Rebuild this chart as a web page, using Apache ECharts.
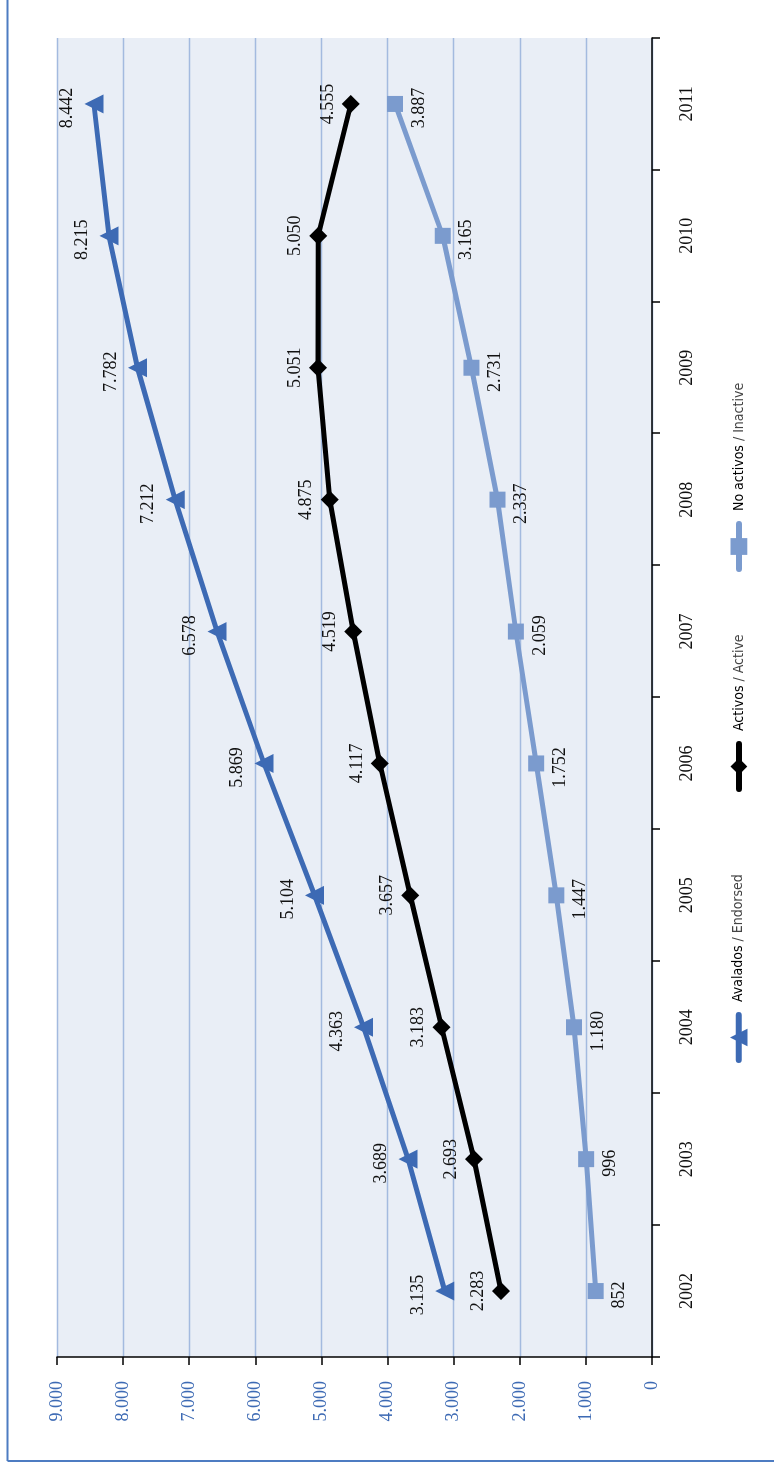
<!DOCTYPE html>
<html>
<head>
<meta charset="utf-8">
<script src="https://cdn.jsdelivr.net/npm/echarts@6/dist/echarts.min.js"></script>
<style>
html,body{margin:0;padding:0;overflow:hidden;background:#fff;width:774px;height:1467px;}
#main{position:absolute;left:0;top:0;width:1467px;height:774px;transform-origin:0 0;transform:translateY(1467px) rotate(-90deg);}
</style>
</head>
<body>
<div id="main"></div>
<script>
// Data (chart drawn in normal orientation, the container is rotated -90deg)
const years = ['2002','2003','2004','2005','2006','2007','2008','2009','2010','2011'];
const avalados = [3135, 3689, 4363, 5104, 5869, 6578, 7212, 7782, 8215, 8442];
const activos = [2283, 2693, 3183, 3657, 4117, 4519, 4875, 5051, 5050, 4555];
const noActivos = [852, 996, 1180, 1447, 1752, 2059, 2337, 2731, 3165, 3887];
const seriesNames = ['Avalados', 'Activos', 'No activos'];
const seriesSub = [' / Endorsed', ' / Active', ' / Inactive'];

const fmt = v => String(v).replace(/\B(?=(\d{3})+(?!\d))/g, '.');
const serif = "'Liberation Serif', 'DejaVu Serif', serif";
const narrow = "'DejaVu Sans Condensed', 'Liberation Sans Narrow', sans-serif";

const chart = echarts.init(document.getElementById('main'));

function legendAt(name, sub, left, h) {
  return {
    data: [name],
    left: left,
    top: 741 - h / 2,
    padding: 0,
    itemWidth: 45,
    itemHeight: h,
    lineStyle: {width: 6, cap: 'round'},
    formatter: n => '{a|' + n + '}{b|' + sub + '}',
    textStyle: {
      rich: {
        a: {fontFamily: narrow, fontSize: 14, color: '#000', padding: [0, 0, 0, 8]},
        b: {fontFamily: narrow, fontSize: 14, color: '#444'}
      }
    },
    selectedMode: false
  };
}

const labelBase = {show: true, fontFamily: serif, fontSize: 18, color: '#111', formatter: p => fmt(p.value)};

chart.setOption({
  animation: false,
  backgroundColor: '#fff',
  grid: {left: 110, right: 38, top: 57, bottom: 122, show: true, backgroundColor: '#E9EEF6', borderWidth: 0},
  graphic: [
    {type: 'line', shape: {x1: 6, y1: 7.5, x2: 1467, y2: 7.5}, style: {stroke: '#4D7CC2', lineWidth: 2}},
    {type: 'line', shape: {x1: 6, y1: 7.5, x2: 6, y2: 774}, style: {stroke: '#4D7CC2', lineWidth: 2}}
  ],
  legend: [
    legendAt(seriesNames[0], seriesSub[0], 404, 22),
    legendAt(seriesNames[1], seriesSub[1], 675, 21),
    legendAt(seriesNames[2], seriesSub[2], 895, 21)
  ],
  xAxis: {
    type: 'category',
    data: years,
    boundaryGap: true,
    axisLine: {show: true, lineStyle: {color: '#000', width: 1.5}},
    axisTick: {show: true, inside: false, length: 8, lineStyle: {color: '#000', width: 1.5}},
    axisLabel: {fontFamily: serif, fontSize: 18, color: '#111', margin: 26}
  },
  yAxis: {
    type: 'value',
    min: 0, max: 9000, interval: 1000,
    axisLine: {show: true, lineStyle: {color: '#000', width: 1.5}},
    axisTick: {show: true, inside: false, length: 8, lineStyle: {color: '#000', width: 1.5}},
    axisLabel: {fontFamily: serif, fontSize: 18, color: '#3D6AB4', margin: 24, formatter: v => fmt(v)},
    splitLine: {show: true, lineStyle: {color: '#A3BADF', width: 1.3}}
  },
  series: [
    {
      name: seriesNames[0], type: 'line', data: avalados,
      symbol: 'triangle', symbolSize: [19, 19], showAllSymbol: true,
      lineStyle: {color: '#3D6AB4', width: 5},
      itemStyle: {color: '#3D6AB4'},
      label: Object.assign({}, labelBase, {position: 'top', distance: 8, offset: [-4, 0]})
    },
    {
      name: seriesNames[1], type: 'line', data: activos,
      symbol: 'diamond', symbolSize: [18, 18], showAllSymbol: true,
      lineStyle: {color: '#000', width: 5},
      itemStyle: {color: '#000'},
      label: Object.assign({}, labelBase, {position: 'top', distance: 5})
    },
    {
      name: seriesNames[2], type: 'line', data: noActivos,
      symbol: 'rect', symbolSize: [16, 16], showAllSymbol: true,
      lineStyle: {color: '#7B9BCE', width: 5},
      itemStyle: {color: '#7B9BCE'},
      label: Object.assign({}, labelBase, {position: 'bottom', distance: 7, offset: [-4, 0]})
    }
  ]
});
</script>
</body>
</html>
